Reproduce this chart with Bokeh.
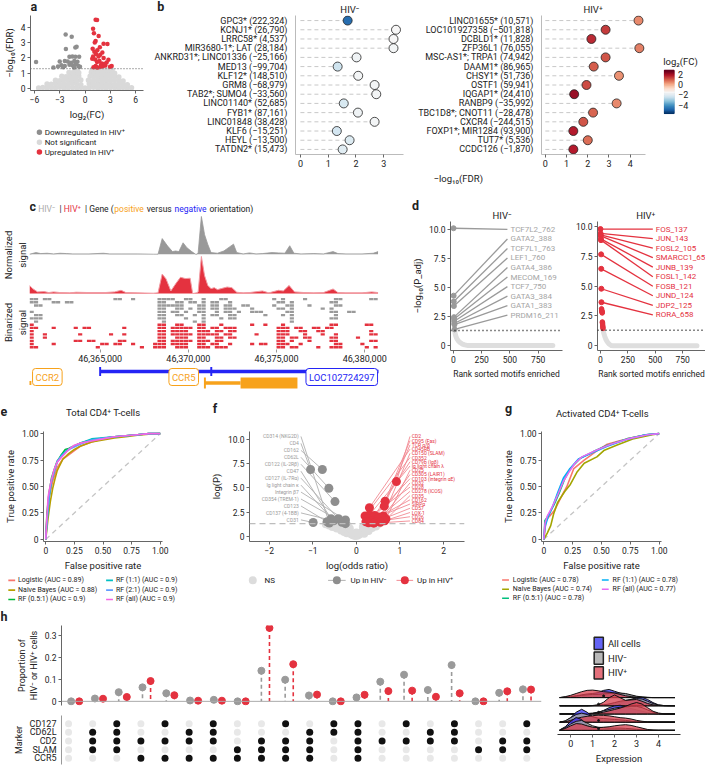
import numpy as np
from bokeh.plotting import figure
from bokeh.models import (Range1d, FixedTicker, Label, LinearColorMapper, NumeralTickFormatter, Span,
                          ColumnDataSource, Spacer)
from bokeh.layouts import column, row
from bokeh.core.properties import value
from bokeh.embed import file_html
from bokeh.resources import INLINE
from bokeh.palettes import RdBu11

# ======================= DATA =======================
# ---- (a) volcano ----
a_down_x = [-2.3, -1.58, -2.27, -1.15, -1.0, -1.85, -1.5, -1.15, -0.7, -3.0, -2.4, -2.05, -1.65, -1.27,
            -0.9, -2.8, -2.4, -1.85, -1.5, -1.1, -0.8, -3.2, -3.75, -5.8, -2.6, -1.3, -0.6]
a_down_y = [3.53, 3.37, 2.58, 2.68, 2.72, 2.08, 2.10, 2.08, 2.08, 1.77, 1.80, 1.77, 1.69, 1.80,
            1.75, 1.52, 1.48, 1.56, 1.52, 1.60, 1.48, 1.44, 1.38, 1.73, 1.40, 1.38, 1.42]
a_up_x = [1.25, 1.42, 1.61, 1.25, 2.19, 2.65, 1.80, 1.60, 2.20, 2.77, 1.42, 2.00, 2.40, 2.96, 3.15,
          1.25, 0.95, 1.05, 1.15, 0.90, 1.10, 1.30, 0.85, 1.70, 1.90, 2.10, 1.00, 1.50, 2.30, 2.55,
          0.95, 1.20, 1.45, 1.75, 2.05, 1.35, 1.85]
a_up_y = [4.48, 4.46, 3.43, 3.10, 2.92, 2.90, 2.20, 2.10, 2.00, 1.88, 1.73, 1.63, 1.50, 1.43, 1.47,
          1.47, 3.90, 3.60, 3.00, 2.60, 2.40, 2.25, 1.95, 1.80, 1.55, 1.45, 1.40, 1.38, 1.60, 1.70,
          2.10, 1.90, 2.50, 2.70, 2.35, 1.40, 1.42]
a_ns_x = [-5.5, -5, -4.5, -4, -3.5, -3, -2.5, -2, -1.5, -1, -0.5, 0, 0.5, 1, 1.5, 2, 2.5, 3, 3.5, 4, 4.5, 5, 5.5,
          -4.5, -4, -3.5, -3, -2.5, -2, -1.5, -1, -0.5, 0.5, 1, 1.5, 2, 2.5, 3, 3.5, 4, 4.5, 5,
          -3.5, -3, -2.5, -2, -1.5, -1, -0.5, 0.4, 1, 1.5, 2, 2.5, 3, 3.5, 4, 4.5,
          -2.75, -2.25, -1.75, -1.25, -0.75, 0.6, 1, 1.5, 2, 2.5, 3, 3.5, 4,
          -1.9, -1.5, -1.1, -0.75, 0.75, 1.1, 1.5, 1.9, 2.3, 2.7, 3.1, 3.5,
          -1.15, -0.9, 0.85, 1.2, 1.6, 2.0, 2.4, 2.8, 3.2]
a_ns_y = [0.05, 0.08, 0.04, 0.07, 0.05, 0.09, 0.04, 0.06, 0.08, 0.05, 0.07, 0.04, 0.06, 0.09, 0.05, 0.07,
          0.04, 0.08, 0.06, 0.05, 0.07, 0.04, 0.06,
          0.30, 0.28, 0.33, 0.27, 0.31, 0.29, 0.34, 0.30, 0.26, 0.32, 0.28, 0.31, 0.33, 0.29, 0.30, 0.27,
          0.32, 0.28, 0.25,
          0.55, 0.52, 0.58, 0.54, 0.56, 0.53, 0.57, 0.55, 0.52, 0.58, 0.54, 0.56, 0.53, 0.57, 0.52, 0.50,
          0.80, 0.78, 0.83, 0.79, 0.82, 0.80, 0.77, 0.82, 0.79, 0.81, 0.78, 0.80, 0.76,
          1.05, 1.03, 1.07, 1.04, 1.06, 1.02, 1.05, 1.07, 1.03, 1.05, 1.02, 1.00,
          1.25, 1.23, 1.24, 1.26, 1.22, 1.25, 1.24, 1.23, 1.21]
fdr_cut = 1.3
a_legend = ["Downregulated in HIV⁺", "Not significant", "Upregulated in HIV⁺"]

# ---- (b) top loci ----
b_neg_genes = ["GPC3* (222,324)", "KCNJ1* (26,790)", "LRRC58* (4,537)", "MIR3680-1*; LAT (28,184)",
               "ANKRD31*; LINC01336 (−25,166)", "MED13 (−99,704)", "KLF12* (148,510)", "GRM8 (−68,979)",
               "TAB2*; SUMO4 (−33,560)", "LINC01140* (52,685)", "FYB1* (87,161)", "LINC01848 (38,428)",
               "KLF6 (−15,251)", "HEYL (−13,500)", "TATDN2* (15,473)"]
b_neg_fdr = [1.70, 3.44, 3.35, 3.35, 2.02, 1.34, 2.08, 2.67, 2.73, 1.56, 2.07, 2.67, 1.31, 1.77, 1.52]
b_neg_fc = [-4.6, -1.4, -1.4, -1.5, -1.6, -2.3, -1.5, -1.5, -1.5, -2.1, -1.6, -1.5, -2.2, -2.0, -1.9]
b_pos_genes = ["LINC01655* (10,571)", "LOC101927358 (−501,818)", "DCBLD1* (11,828)", "ZFP36L1 (76,055)",
               "MSC-AS1*; TRPA1 (74,942)", "DAAM1* (86,965)", "CHSY1* (51,736)", "OSTF1 (59,941)",
               "IQGAP1* (24,410)", "RANBP9 (−35,992)", "TBC1D8*; CNOT11 (−28,478)", "CXCR4 (−244,515)",
               "FOXP1*; MIR1284 (93,900)", "TUT7* (5,536)", "CCDC126 (−1,870)"]
b_pos_fdr = [4.39, 2.84, 2.17, 4.43, 2.84, 2.28, 3.47, 1.94, 1.36, 3.36, 2.25, 1.79, 1.32, 2.00, 1.32]
b_pos_fc = [0.6, 1.5, 1.7, 0.7, 1.2, 1.1, 0.5, 1.3, 2.2, 0.6, 1.0, 1.2, 1.9, 0.9, 1.9]
fc_low, fc_high = -5.6, 2.76
fc_ticks = [2, 0, -2, -4]

# ---- (c) genome track ----
sig_gray_pos = [46360995, 46361359, 46361633, 46361997, 46362361, 46362725, 46363090, 46363454, 46364365,
                46365184, 46365548, 46366186, 46367097, 46368007, 46368281, 46368518, 46368827, 46369100,
                46369282, 46369464, 46369701, 46369920, 46370193, 46370411, 46370502, 46370557, 46370739,
                46370921, 46371103, 46371286, 46371650, 46372014, 46372560, 46372743, 46373107, 46373471,
                46373835, 46374200, 46374746, 46375110, 46375475, 46375748, 46375985, 46376385, 46377114,
                46377660, 46378206, 46378479, 46378935, 46379846, 46380483, 46380756]
sig_gray_val = [0, 5, 2, 3, 1, 3, 2, 1, 1, 3, 1, 1, 1, 0, 0, 48, 25, 8, 10, 8, 35, 20, 8, 0, 0, 5, 116,
                60, 30, 5, 3, 10, 31, 5, 1, 4, 1, 2, 5, 4, 3, 26, 3, 1, 2, 1, 8, 2, 1, 1, 3, 8]
sig_red_pos = [46360995, 46361177, 46361451, 46361815, 46362088, 46362361, 46362725, 46363272, 46363636,
               46364365, 46365275, 46365822, 46366186, 46366459, 46367097, 46368007, 46368281, 46368518,
               46368736, 46369009, 46369282, 46369555, 46369829, 46370102, 46370247, 46370466, 46370557,
               46370739, 46370921, 46371103, 46371286, 46371468, 46371650, 46371923, 46372196, 46372469,
               46372743, 46373107, 46373471, 46374200, 46374564, 46375110, 46375383, 46375711, 46376021,
               46376567, 46377114, 46377660, 46378206, 46378479, 46378935, 46379846, 46380392, 46380756]
sig_red_val = [25, 15, 5, 6, 3, 5, 3, 2, 4, 3, 3, 5, 10, 3, 2, 1, 2, 60, 45, 8, 30, 50, 46, 47, 0, 2, 5,
               114, 55, 25, 15, 18, 12, 16, 20, 18, 4, 2, 3, 8, 2, 10, 8, 25, 5, 3, 2, 3, 14, 3, 2, 2, 5, 3]
bin_origin = 46361000
bin_size = 250
bins_hiv_neg = [
    [0, 1, 3, 4, 19, 20, 23, 29, 30, 31, 32, 35, 36, 39, 43, 44, 55, 57, 62, 69, 70, 77, 78],
    [0, 1, 5, 6, 8, 9, 29, 30, 33, 34, 36, 37, 39, 41, 42, 45, 56, 57, 59, 68, 69],
    [1, 2, 29, 30, 31, 32, 33, 34, 38, 39, 41, 42, 44, 45, 48, 49, 55, 58, 59, 63, 69, 70],
    [29, 30, 33, 34, 36, 38, 39, 41, 42, 44, 45, 46, 50, 56, 57, 59, 66, 68],
    [0, 29, 30, 32, 33, 35, 38, 39, 42, 44, 45, 47, 50, 51, 52, 58, 59, 68, 69, 72, 73],
    [1, 2, 29, 30, 33, 34, 37, 39, 41, 42, 45, 46, 53, 57, 59, 69],
    [0, 1, 2, 29, 30, 35, 39, 43, 45, 46, 59, 68, 69],
    [1, 30, 37, 39, 59],
]
bins_hiv_pos = [
    [0, 29, 30, 33, 34, 38, 39, 43, 50, 53, 57, 68, 69, 76, 77],
    [0, 1, 5, 10, 12, 13, 21, 29, 30, 32, 33, 34, 35, 36, 38, 39, 41, 42, 44, 45, 46, 56, 57, 58, 60, 61, 64, 65, 67, 68],
    [0, 29, 30, 32, 33, 34, 35, 38, 39, 40, 42, 43, 45, 46, 56, 57, 58, 61, 62, 65, 66, 77],
    [0, 3, 11, 18, 21, 29, 30, 32, 33, 34, 35, 36, 38, 39, 40, 41, 42, 44, 45, 51, 56, 57, 58, 62, 66, 69, 77, 78],
    [0, 3, 29, 30, 33, 34, 35, 38, 39, 42, 43, 45, 46, 56, 57, 59, 60, 62, 63, 68, 69, 74],
    [0, 10, 11, 13, 14, 20, 21, 29, 30, 32, 33, 34, 35, 36, 38, 39, 40, 42, 43, 56, 57, 59, 63, 68, 69, 77, 78],
    [0, 5, 16, 17, 19, 20, 23, 28, 29, 30, 32, 33, 34, 35, 38, 39, 41, 42, 45, 50, 52, 53, 56, 57, 58, 61, 69, 70, 75],
    [0, 1, 15, 25, 28, 29, 30, 33, 34, 35, 38, 39, 40, 42, 43, 44, 56, 57, 59, 60, 65, 68, 69, 70, 76, 78],
]
gene_names = ["CCR2", "CCR5", "LOC102724297"]
gene_strand = ["+", "+", "-"]
gene_start = [46358500, 46370939, 46365000]
gene_end = [46361100, 46376185, 46381500]
ccr5_thick = (46372961, 46376185)
loc_exon_marks = [46365000, 46371300]
genome_ticks = [46365000, 46370000, 46375000, 46380000]

# ---- (d) motif enrichment ----
d_neg_motifs = ["TCF7L2_762", "GATA2_388", "TCF7L1_763", "LEF1_760", "GATA4_386", "MECOM_169",
                "TCF7_750", "GATA3_384", "GATA1_383", "PRDM16_211"]
d_neg_rank = [1, 2, 3, 4, 5, 6, 7, 8, 9, 10]
d_neg_logp = [10.1, 4.3, 3.8, 3.4, 2.45, 2.3, 2.1, 1.9, 1.8, 1.4]
d_neg_rest_rank = [11, 15, 20, 30, 45, 60, 80, 100, 130, 880]
d_neg_rest_logp = [1.3, 1.05, 0.85, 0.6, 0.38, 0.25, 0.13, 0.06, 0.0, 0.0]
d_pos_motifs = ["FOS_137", "JUN_143", "FOSL2_105", "SMARCC1_65", "JUNB_139", "FOSL1_142", "FOSB_121",
                "JUND_124", "JDP2_125", "RORA_658"]
d_pos_rank = [1, 2, 3, 4, 5, 6, 7, 8, 9, 10]
d_pos_logp = [9.78, 9.42, 9.3, 9.2, 8.95, 8.85, 7.66, 6.45, 4.78, 3.65]
d_pos_sig_rank = [11, 12, 13, 14, 15, 16, 17, 18, 19, 20, 21, 22, 23, 24]
d_pos_sig_logp = [3.1, 3.0, 2.95, 2.9, 2.85, 2.8, 2.75, 2.0, 1.95, 1.85, 1.75, 1.65, 1.55, 1.45]
d_pos_rest_rank = [25, 30, 40, 50, 60, 70, 80, 90, 100, 120, 880]
d_pos_rest_logp = [1.3, 1.1, 0.8, 0.55, 0.38, 0.25, 0.15, 0.08, 0.03, 0.0, 0.0]
padj_cut = 1.3

# ---- (e), (g) ROC ----
e_models = ["Logistic (AUC = 0.89)", "Naive Bayes (AUC = 0.88)", "RF (0.5:1) (AUC = 0.9)",
            "RF (1:1) (AUC = 0.9)", "RF (2:1) (AUC = 0.9)", "RF (all) (AUC = 0.9)"]
e_fpr = [
    [0, 0.01, 0.03, 0.06, 0.1, 0.15, 0.2, 0.25, 0.3, 0.4, 0.5, 0.6, 0.7, 0.8, 0.9, 1.0],
    [0, 0.02, 0.04, 0.06, 0.08, 0.1, 0.15, 0.2, 0.25, 0.3, 0.4, 0.5, 0.6, 0.7, 0.8, 0.9, 1.0],
    [0, 0.01, 0.03, 0.05, 0.08, 0.1, 0.13, 0.17, 0.2, 0.3, 0.4, 0.5, 0.6, 0.7, 0.8, 0.9, 1.0],
    [0, 0.01, 0.03, 0.05, 0.08, 0.1, 0.14, 0.18, 0.22, 0.3, 0.4, 0.5, 0.6, 0.7, 0.8, 0.9, 1.0],
    [0, 0.01, 0.03, 0.05, 0.08, 0.1, 0.14, 0.18, 0.22, 0.3, 0.4, 0.5, 0.6, 0.7, 0.8, 0.9, 1.0],
    [0, 0.01, 0.02, 0.04, 0.07, 0.1, 0.15, 0.2, 0.25, 0.3, 0.4, 0.5, 0.6, 0.7, 0.8, 0.9, 1.0],
]
e_tpr = [
    [0, 0.2, 0.4, 0.55, 0.68, 0.76, 0.8, 0.84, 0.88, 0.92, 0.95, 0.97, 0.98, 0.99, 1.0, 1.0],
    [0, 0.2, 0.36, 0.48, 0.57, 0.65, 0.76, 0.81, 0.85, 0.88, 0.92, 0.94, 0.96, 0.97, 0.985, 0.995, 1.0],
    [0, 0.25, 0.45, 0.58, 0.68, 0.74, 0.79, 0.85, 0.86, 0.91, 0.94, 0.955, 0.97, 0.98, 0.99, 1.0, 1.0],
    [0, 0.15, 0.4, 0.55, 0.66, 0.73, 0.8, 0.84, 0.87, 0.91, 0.95, 0.96, 0.97, 0.98, 0.99, 1.0, 1.0],
    [0, 0.18, 0.42, 0.56, 0.67, 0.74, 0.79, 0.83, 0.86, 0.9, 0.94, 0.955, 0.97, 0.98, 0.99, 1.0, 1.0],
    [0, 0.22, 0.4, 0.52, 0.65, 0.73, 0.79, 0.85, 0.89, 0.91, 0.93, 0.95, 0.97, 0.98, 0.99, 1.0, 1.0],
]
g_models = ["Logistic (AUC = 0.78)", "Naive Bayes (AUC = 0.74)", "RF (0.5:1) (AUC = 0.78)",
            "RF (1:1) (AUC = 0.78)", "RF (all) (AUC = 0.77)"]
g_fpr = [
    [0, 0.02, 0.05, 0.09, 0.15, 0.2, 0.26, 0.35, 0.45, 0.55, 0.65, 0.72, 0.8, 0.89, 1.0],
    [0, 0.03, 0.06, 0.085, 0.12, 0.18, 0.23, 0.29, 0.35, 0.46, 0.52, 0.63, 0.77, 0.94, 1.0],
    [0, 0.01, 0.03, 0.09, 0.13, 0.18, 0.23, 0.32, 0.43, 0.55, 0.72, 0.89, 1.0],
    [0, 0.01, 0.04, 0.08, 0.12, 0.17, 0.22, 0.3, 0.42, 0.55, 0.7, 0.88, 1.0],
    [0, 0.01, 0.03, 0.07, 0.12, 0.17, 0.22, 0.27, 0.33, 0.45, 0.58, 0.73, 0.9, 1.0],
]
g_tpr = [
    [0, 0.18, 0.22, 0.27, 0.4, 0.5, 0.67, 0.75, 0.83, 0.9, 0.93, 0.95, 0.97, 0.99, 1.0],
    [0, 0.06, 0.13, 0.24, 0.35, 0.45, 0.52, 0.64, 0.72, 0.78, 0.84, 0.89, 0.95, 0.99, 1.0],
    [0, 0.18, 0.21, 0.33, 0.43, 0.57, 0.67, 0.77, 0.83, 0.89, 0.95, 0.99, 1.0],
    [0, 0.12, 0.22, 0.32, 0.44, 0.58, 0.66, 0.76, 0.82, 0.88, 0.94, 0.99, 1.0],
    [0, 0.15, 0.22, 0.3, 0.42, 0.55, 0.64, 0.72, 0.78, 0.84, 0.9, 0.95, 0.99, 1.0],
]

# ---- (f) marker volcano ----
f_ns_x = [-0.70, -0.62, -0.55, -0.50, -0.45, -0.40, -0.35, -0.30, -0.28, -0.22, -0.18, -0.12, -0.08, -0.03,
          0.02, 0.06, 0.10, 0.14, 0.18, 0.20, 0.24, 0.28, 0.32, 0.36, 0.40, 0.45, 0.50, 0.15, -0.15, 0.00,
          -0.20, 0.30, -0.60]
f_ns_y = [1.25, 1.10, 0.95, 1.20, 0.80, 1.00, 0.60, 0.85, 0.45, 0.30, 0.55, 0.20, 0.10, 0.02, 0.05, 0.15,
          0.30, 0.50, 0.25, 0.70, 0.90, 0.55, 1.10, 0.85, 1.20, 1.00, 1.25, 0.95, 0.80, 0.40, 1.10, 1.25, 1.28]
f_neg_labels = ["CD314 (NKG2D)", "CD4", "CD162", "CD62L", "CD122 (IL-2Rβ)", "CD47", "CD127 (IL-7Rα)",
                "Ig light chain κ", "Integrin β7", "CD354 (TREM-1)", "CD123", "CD137 (4-1BB)", "CD31"]
f_neg_x = [-0.62, -1.05, -0.78, -0.63, -0.49, -0.58, -0.41, -0.52, -0.25, -0.33, -0.67, -0.25, -0.99]
f_neg_y = [1.36, 6.89, 6.89, 4.96, 3.58, 1.82, 1.82, 1.60, 1.69, 1.45, 1.50, 1.30, 1.42]
f_pos_labels = ["CD2", "CD95 (Fas)", "TCR α/β", "CD45RB", "CD150 (SLAM)", "CD352", "CD79b (Igβ)",
                "Ig light chain λ", "CD25", "CD305 (LAIR1)", "CD103 (integrin αE)", "CD32", "CD28",
                "CD278 (ICOS)", "CD35", "CD162", "SIRPα", "CD57", "LOX-1", "CD26", "CD84"]
f_pos_x = [0.92, 0.66, 0.64, 0.30, 0.62, 0.20, 0.42, 0.30, 0.68, 0.52, 0.38, 0.58, 0.25, 0.48, 0.65,
           0.35, 0.22, 0.45, 0.55, 0.28, 0.40]
f_pos_y = [5.64, 3.62, 3.11, 2.94, 2.10, 2.10, 2.15, 2.20, 1.80, 2.00, 1.90, 1.90, 1.80, 1.75, 1.60,
           1.60, 1.50, 1.50, 1.45, 1.40, 1.35]
f_cut = 1.3
f_legend = ["NS", "Up in HIV⁻", "Up in HIV⁺"]

# ---- (h) marker combinations ----
h_markers = ["CD127", "CD62L", "CD2", "SLAM", "CCR5"]
h_membership = ["00101010010110101001",
                "01100110001110011000",
                "01111110111011111011",
                "01100001111010000111",
                "00011111111010000000"]
h_prop_neg = [0.0, 0.013, 0.042, 0.064, 0.037, 0.004, 0.007, 0.0, 0.14, 0.099, 0.027, 0.0, 0.018, 0.09,
              0.122, 0.052, 0.166, 0.0, 0.039, 0.055]
h_prop_pos = [0.0, 0.012, 0.02, 0.093, 0.028, 0.003, 0.003, 0.0, 0.336, 0.17, 0.031, 0.0, 0.03, 0.047,
              0.049, 0.021, 0.037, 0.0, 0.046, 0.054]
ridge_groups = ["All cells", "HIV⁻", "HIV⁺"]
ridge_grid = [-0.5, -0.25, 0, 0.25, 0.5, 0.75, 1.0, 1.25, 1.5, 1.75, 2.0, 2.25, 2.5, 2.75, 3.0, 3.25, 3.5,
              3.75, 4.0, 4.25, 4.5, 4.75]
ridge_all = [
    [0, 0.5, 1, 2, 3, 4, 4.5, 5.5, 8, 9, 7, 5, 3.5, 2, 1, 0.5, 0.2, 0, 0, 0, 0, 0],
    [0, 0, 0, 0, 0, 0, 0.2, 0.5, 1, 1.5, 2.5, 3.5, 5, 7, 9, 9.3, 7, 3.5, 1, 0.2, 0, 0],
    [0, 0, 0, 0, 0, 0.2, 0.5, 1.5, 4, 7, 9, 9.7, 8, 6, 4.5, 3, 1.5, 0.5, 0.1, 0, 0, 0],
    [0, 1, 5, 11, 14.3, 11, 6, 3, 2, 1.5, 1, 0.8, 0.5, 0.3, 0.1, 0, 0, 0, 0, 0, 0, 0],
    [0.5, 4, 10, 14.3, 12, 6, 3, 1.5, 1, 0.6, 0.4, 0.3, 0.2, 0.1, 0, 0, 0, 0, 0, 0, 0, 0],
]
ridge_neg = [
    [0, 0.3, 0.8, 1.5, 2.5, 3, 3.5, 3.5, 4, 4.5, 5, 5, 4.5, 3, 1.5, 0.7, 0.2, 0, 0, 0, 0, 0],
    [0, 0, 0, 0, 0, 0, 0.2, 0.5, 1, 2, 3.5, 5, 6, 7, 8, 7.5, 5, 2.5, 0.8, 0.2, 0, 0],
    [0, 0, 0, 0, 0.2, 0.5, 1, 2, 3.5, 5, 6.5, 7.5, 8, 8.5, 8.5, 7, 4.5, 2, 0.5, 0, 0, 0],
    [0, 1.5, 5, 8.5, 10, 8.5, 6, 4.5, 4, 3.5, 3, 2.5, 2, 1.2, 0.5, 0.1, 0, 0, 0, 0, 0, 0],
    [0.5, 3, 7, 10, 11, 8, 5, 3.5, 3, 2.5, 2.5, 2.5, 2.2, 1.8, 1.2, 0.5, 0.1, 0, 0, 0, 0, 0],
]
ridge_pos = [
    [0, 1, 2.5, 4.5, 6.5, 8, 8.3, 7.5, 6.5, 6, 5, 3.5, 2, 1, 0.4, 0.1, 0, 0, 0, 0, 0, 0],
    [0, 0, 0, 0, 0, 0, 0.3, 1, 4, 9, 12, 9, 6, 6.5, 7, 5, 2.5, 1, 0.3, 0, 0, 0],
    [0, 0, 0, 0, 0, 0.2, 0.5, 1, 2, 3.5, 5, 6.5, 8.5, 11, 12.7, 11, 7, 3, 1, 0.2, 0, 0],
    [0, 0.5, 2, 4, 5.5, 6.5, 7.2, 7.7, 7.5, 7, 6, 5, 4.5, 3.5, 2, 1, 0.3, 0, 0, 0, 0, 0],
    [0.3, 2, 5, 7.5, 7, 5, 3.5, 3, 3.5, 4, 5, 5.8, 6.3, 5.5, 4, 2.5, 1, 0.3, 0, 0, 0, 0],
]
ridge_gate = [1.5, 1.27, 1.27, 1.27, 1.27]

# ======================= HELPERS =======================
KX = 705 / 721
KY = 766 / 782
def ex(x): return int(round(x * KX))
def ey(y): return int(round(y * KY))

FONT = "Roboto"
INK = "#222222"
AXC = "#666666"
RED = "#E4323F"
GRAY = "#8E8E8E"
LIGHT = "#D9D9D9"
ORANGE = "#F7A21B"
BLUE = "#2424F5"
E_COLS = ["#F8766D", "#B79F00", "#00BA38", "#00BFC4", "#619CFF", "#F564E3"]
G_COLS = ["#F8766D", "#A3A500", "#00BF7D", "#00B0F6", "#E76BF3"]
RIDGE_COLS = [("#3D3DF2", 0.8), ("#A6A6A6", 0.8), ("#D9404F", 0.75)]
LETTER = "12.5px"
# approximate advance widths (em) used to chain multi-coloured text pieces
EM = {' ': 0.26, 'H': 0.72, 'I': 0.28, 'V': 0.65, '|': 0.26, 'G': 0.69, 'e': 0.54, 'n': 0.56,
      '(': 0.35, ')': 0.35, 'p': 0.57, 'o': 0.58, 's': 0.53, 'i': 0.25, 't': 0.34, 'v': 0.5,
      'r': 0.35, 'u': 0.56, 'g': 0.57, 'a': 0.55, 'c': 0.53}
EM_PAD = 1.12


def base_fig(w, h, xr, yr, xaxis, yaxis, mb):
    p = figure(width=w, height=h, x_range=Range1d(*xr), y_range=Range1d(*yr),
               x_axis_location="below" if xaxis else None,
               y_axis_location="left" if yaxis else None,
               min_border_left=mb[0], min_border_right=mb[1], min_border_top=mb[2], min_border_bottom=mb[3],
               output_backend="svg", toolbar_location=None, tools="")
    p.outline_line_color = None
    p.grid.visible = False
    return p


def mkfig(box, frame, xr, yr, xaxis=True, yaxis=True):
    L, T, R, B = box
    fl, ft, fr, fb = frame
    return base_fig(ex(R) - ex(L), ey(B) - ey(T), xr, yr, xaxis, yaxis,
                    (ex(fl) - ex(L), ex(R) - ex(fr), ey(ft) - ey(T), ey(B) - ey(fb)))


def annfig(L, T, R, B):
    # text / legend strip: coordinates are reference pixels (y downward)
    return base_fig(ex(R) - ex(L), ey(B) - ey(T), (L, R), (B, T), False, False, (0, 0, 0, 0))


def sty(ax, size="8.5px", lsize="9.5px"):
    ax.axis_line_color = AXC
    ax.major_tick_line_color = AXC
    ax.major_tick_out = 3
    ax.major_tick_in = 0
    ax.minor_tick_line_color = None
    ax.major_label_text_font = FONT
    ax.major_label_text_font_size = size
    ax.major_label_text_color = INK
    ax.major_label_standoff = 2
    ax.axis_label_text_font = FONT
    ax.axis_label_text_font_size = lsize
    ax.axis_label_text_font_style = "normal"
    ax.axis_label_text_color = INK
    ax.axis_label_standoff = 3


def k(v):
    return int(v) if float(v).is_integer() else v


def ticks(ax, vals, labels):
    ax.ticker = FixedTicker(ticks=list(vals))
    ax.major_label_overrides = {k(v): l for v, l in zip(vals, labels)}


def label_only_axis(ax, text, size="9.5px"):
    ax.ticker = FixedTicker(ticks=[])
    ax.axis_line_color = None
    ax.major_tick_line_color = None
    ax.minor_tick_line_color = None
    ax.axis_label = text
    ax.axis_label_text_font = FONT
    ax.axis_label_text_font_size = size
    ax.axis_label_text_font_style = "normal"
    ax.axis_label_text_color = INK
    ax.axis_label_standoff = 2


def T(p, x, y, s, size="9px", color=INK, align="left", baseline="middle", style="normal"):
    p.text(x=[x], y=[y], text=[s], text_font=value(FONT), text_font_size=value(size), text_color=color,
           text_align=align, text_baseline=baseline, text_font_style=style)


def chain(p, x0, y, segs, px):
    scale = px / KX * EM_PAD
    x = x0
    for s, col in segs:
        lead = len(s) - len(s.lstrip(" "))
        T(p, x + lead * EM[' '] * scale, y, s.strip(" "), size="%gpx" % px, color=col)
        x += sum(EM.get(ch, 0.58) for ch in s) * scale


def interp_pal(cols, n):
    rgb = np.array([[int(c[i:i + 2], 16) for i in (1, 3, 5)] for c in cols], float)
    t = np.linspace(0, 1, len(cols))
    out = []
    for v in np.linspace(0, 1, n):
        r = [int(round(np.interp(v, t, rgb[:, j]))) for j in range(3)]
        out.append("#%02x%02x%02x" % tuple(r))
    return out

# ======================= ROW 1 : a, b (ref y 0-203) =======================
hA = annfig(0, 0, 152, 15)
T(hA, 0, 13, "a", size=LETTER, style="bold", baseline="bottom")

pa = mkfig((0, 15, 152, 125), (30, 15, 146, 97), (-6.46, 6.92), (-0.12, 4.76))
sty(pa.xaxis[0]); sty(pa.yaxis[0])
ticks(pa.xaxis[0], [-6, -3, 0, 3, 6], ["−6", "−3", "0", "3", "6"])
ticks(pa.yaxis[0], [0, 1, 2, 3, 4], ["0", "1", "2", "3", "4"])
pa.xaxis[0].axis_label = "log₂(FC)"
pa.yaxis[0].axis_label = "−log₁₀(FDR)"
pa.scatter(a_ns_x, a_ns_y, size=5.5, color=LIGHT, line_color=None)
pa.add_layout(Span(location=fdr_cut, dimension="width", line_color="#777777", line_dash="1 2", line_width=1.3))
pa.scatter(a_down_x, a_down_y, size=4.5, color=GRAY, line_color=None)
pa.scatter(a_up_x, a_up_y, size=4.5, color=RED, line_color=None)

fA = annfig(0, 125, 152, 203)
for yy, col, txt in zip([135, 145, 155], [GRAY, LIGHT, RED], a_legend):
    fA.scatter([12], [yy], size=5.5, color=col, line_color=None)
    T(fA, 19, yy, txt, size="8px")

mapper = LinearColorMapper(palette=interp_pal(list(RdBu11), 256), low=fc_low, high=fc_high)
ypos = list(range(len(b_neg_genes), 0, -1))


def bpanel(box, frame, xr, genes, fdr, fc, xt):
    p = mkfig(box, frame, xr, (0.45, 15.55))
    sty(p.xaxis[0], size="9px"); sty(p.yaxis[0], size="9px")
    ticks(p.xaxis[0], xt, [str(t) for t in xt])
    ticks(p.yaxis[0], ypos, genes)
    p.yaxis[0].major_tick_line_color = None
    p.yaxis[0].axis_line_color = "#BBBBBB"
    p.xaxis[0].axis_line_color = "#BBBBBB"
    p.yaxis[0].major_label_standoff = 5
    p.segment(x0=[0] * len(fdr), y0=ypos, x1=fdr, y1=ypos, line_color="#C8C8C8", line_dash="4 3", line_width=1)
    src = ColumnDataSource(dict(x=fdr, y=ypos, fc=fc))
    p.scatter("x", "y", size=9, fill_color={"field": "fc", "transform": mapper},
              line_color="#222222", line_width=0.8, source=src)
    return p


hB = annfig(152, 0, 721, 15)
T(hB, 160, 13, "b", size=LETTER, style="bold", baseline="bottom")
T(hB, 357, 8.5, "HIV⁻", size="9.5px", align="center")
T(hB, 606, 8.5, "HIV⁺", size="9.5px", align="center")
pbl = bpanel((152, 15, 415, 175), (302, 15, 412, 157.2), (-0.177, 3.71), b_neg_genes, b_neg_fdr, b_neg_fc, [0, 1, 2, 3])
pbr = bpanel((415, 15, 668, 175), (553, 15, 660, 157.2), (-0.18, 4.72), b_pos_genes, b_pos_fdr, b_pos_fc, [0, 1, 2, 3, 4])

# colour bar as its own small plot (y in log2FC units)
cb_px = 44.0 / (fc_high - fc_low)          # reference pixels per log2FC unit
cbf = base_fig(ex(721) - ex(668), ey(120) - ey(52), (668, 721),
               (fc_low - 5 / cb_px, fc_high + 19 / cb_px), False, False, (0, 0, 0, 0))
edges = np.linspace(fc_low, fc_high, len(mapper.palette) + 1)
cbf.quad(left=679, right=689, bottom=edges[:-1], top=edges[1:], fill_color=list(mapper.palette),
         line_color=list(mapper.palette), line_width=0.6)
cbf.text(x=[693] * len(fc_ticks), y=fc_ticks, text=[str(t).replace("-", "−") for t in fc_ticks],
         text_font=value(FONT), text_font_size=value("9px"), text_color=INK, text_baseline="middle")
cbf.text(x=[678], y=[fc_high + 9 / cb_px], text=["log₂(FC)"], text_font=value(FONT),
         text_font_size=value("9.5px"), text_color=INK, text_baseline="middle")
cb_col = column(Spacer(width=ex(721) - ex(668), height=ey(52) - ey(15)), cbf,
                Spacer(width=ex(721) - ex(668), height=ey(175) - ey(120)))

fB = annfig(152, 175, 721, 203)
T(fB, 468, 181.5, "−log₁₀(FDR)", size="9.5px", align="center")

row1 = row(column(hA, pa, fA), column(hB, row(pbl, pbr, cb_col), fB))

# ======================= ROW 2 : c, d (ref y 203-405) =======================
xr_c = (46360995, 46380780)
hC = annfig(0, 203, 400, 219)
T(hC, 0, 217, "c", size=LETTER, style="bold", baseline="bottom")
chain(hC, 10, 212, [("HIV⁻", "#AAAAAA"), (" | ", INK), ("HIV⁺", RED), (" | Gene (", INK),
                    ("positive", ORANGE), (" versus ", INK), ("negative", BLUE), (" orientation)", INK)], 8.5)

pcs = mkfig((0, 219, 400, 300), (25, 219, 387, 300), xr_c, (0, 81), xaxis=False)
label_only_axis(pcs.yaxis[0], "Normalized\nsignal")
gbase, gamp = 41.3, 38.7
rbase, ramp = 1.0, 38.0
gtop = [gbase + v / max(sig_gray_val) * gamp for v in sig_gray_val]
rtop = [rbase + v / max(sig_red_val) * ramp for v in sig_red_val]
pcs.varea(x=sig_gray_pos, y1=[gbase] * len(gtop), y2=gtop, fill_color="#999999")
pcs.line(sig_gray_pos, gtop, line_color="#999999", line_width=0.8)
pcs.varea(x=sig_red_pos, y1=[rbase] * len(rtop), y2=rtop, fill_color=RED)
pcs.line(sig_red_pos, rtop, line_color="#F19AA2", line_width=1.0)

pcb = mkfig((0, 300, 400, 372), (25, 301, 387, 357), xr_c, (0, 56))
label_only_axis(pcb.yaxis[0], "Binarized\nsignal")
ax = pcb.xaxis[0]
sty(ax, size="9px")
ax.axis_line_color = None
ax.major_tick_line_color = "#999999"
ax.ticker = FixedTicker(ticks=genome_ticks)
ax.formatter = NumeralTickFormatter(format="0,0")
ql, qr, qb, qt, qc = [], [], [], [], []
rows_bin = [(b, "#9A9A9A") for b in bins_hiv_neg] + [(b, RED) for b in bins_hiv_pos]
for kk, (bl, col) in enumerate(rows_bin):
    yc = 52.3 - 3.33 * kk
    for b in bl:
        ql.append(bin_origin + b * bin_size)
        qr.append(bin_origin + (b + 1) * bin_size - 15)
        qb.append(yc - 1.2)
        qt.append(yc + 1.2)
        qc.append(col)
pcb.quad(left=ql, right=qr, bottom=qb, top=qt, fill_color=qc, line_color=None)

pc2 = mkfig((0, 372, 400, 405), (25, 372, 387, 405), xr_c, (0, 33), xaxis=False, yaxis=False)
gcol = {"+": ORANGE, "-": BLUE}
i_loc = 2
pc2.quad(left=[gene_start[i_loc]], right=[gene_end[i_loc]], bottom=[24.2], top=[27.8],
         fill_color=gcol[gene_strand[i_loc]], line_color=None)
pc2.quad(left=[m - 55 for m in loc_exon_marks], right=[m + 55 for m in loc_exon_marks],
         bottom=[21.5] * 2, top=[30.5] * 2, fill_color=gcol[gene_strand[i_loc]], line_color=None)
i5 = 1
pc2.quad(left=[gene_start[i5]], right=[ccr5_thick[0]], bottom=[12.8], top=[16.2], fill_color=ORANGE, line_color=None)
pc2.quad(left=[gene_start[i5] - 55], right=[gene_start[i5] + 55], bottom=[9], top=[20], fill_color=ORANGE, line_color=None)
pc2.quad(left=[ccr5_thick[0]], right=[ccr5_thick[1]], bottom=[9], top=[20], fill_color=ORANGE, line_color=None)
pc2.quad(left=[gene_start[0]], right=[gene_end[0]], bottom=[12.5], top=[16.5], fill_color=ORANGE, line_color=None)
for name, gx, strand in [(gene_names[0], 46362006, gene_strand[0]), (gene_names[1], 46369737, gene_strand[1]),
                         (gene_names[2], 46378698, gene_strand[2])]:
    col = gcol[strand]
    pc2.add_layout(Label(x=gx, y=20.5, text=name, text_font=FONT, text_font_size="9.5px", text_color=col,
                         text_align="center", text_baseline="middle", border_line_color=col,
                         border_line_width=1, background_fill_color="white", padding=3, border_radius=3))


def dpanel(box, frame, xr, yr, ylabel):
    p = mkfig(box, frame, xr, yr)
    sty(p.xaxis[0], lsize="8.5px"); sty(p.yaxis[0])
    ticks(p.xaxis[0], [0, 250, 500, 750], ["0", "250", "500", "750"])
    ticks(p.yaxis[0], [0, 2.5, 5, 7.5, 10], ["0", "2.5", "5.0", "7.5", "10.0"])
    p.xaxis[0].axis_label = "Rank sorted motifs enriched"
    if ylabel:
        p.yaxis[0].axis_label = ylabel
    p.add_layout(Span(location=padj_cut, dimension="width", line_color="#111111", line_dash="1 3", line_width=1.5))
    return p


hD = annfig(400, 203, 721, 226)
T(hD, 421, 217, "d", size=LETTER, style="bold", baseline="bottom")
T(hD, 513, 220, "HIV⁻", size="9.5px", align="center")
T(hD, 660, 220, "HIV⁺", size="9.5px", align="center")

pd1 = dpanel((400, 226, 585, 405), (460, 226, 575, 357), (-25.9, 965.5), (-0.42, 10.68), "−log₁₀(P_adj)")
pd1.line(d_neg_rest_rank, d_neg_rest_logp, line_color="#DEDEDE", line_width=5, line_cap="round", line_join="round")
ly = np.linspace(10.0, 2.62, len(d_neg_motifs))
pd1.segment(x0=d_neg_rank, y0=d_neg_logp, x1=[478] * len(ly), y1=ly, line_color="#9A9A9A", line_width=1.3)
pd1.scatter(d_neg_rank, d_neg_logp, size=5, color="#9A9A9A")
pd1.text(x=[505] * len(ly), y=ly, text=d_neg_motifs, text_font=value(FONT), text_font_size="8px",
         text_color="#A5A5A5", text_baseline="middle", text_align="left")

pd2 = dpanel((585, 226, 721, 405), (608, 226, 721, 357), (-26, 958), (-0.39, 10.41), None)
pd2.line(d_pos_rest_rank, d_pos_rest_logp, line_color="#DEDEDE", line_width=5, line_cap="round", line_join="round")
ly2 = np.linspace(9.78, 2.6, len(d_pos_motifs))
pd2.segment(x0=d_pos_rank, y0=d_pos_logp, x1=[478] * len(ly2), y1=ly2, line_color=RED, line_width=1.3)
pd2.scatter(d_pos_sig_rank, d_pos_sig_logp, size=4.5, color=RED)
pd2.scatter(d_pos_rank, d_pos_logp, size=5, color=RED)
pd2.text(x=[505] * len(ly2), y=ly2, text=d_pos_motifs, text_font=value(FONT), text_font_size="8px",
         text_color=RED, text_baseline="middle", text_align="left")

row2 = row(column(hC, pcs, pcb, pc2), column(hD, row(pd1, pd2)))

# ======================= ROW 3 : e, f, g (ref y 405-637) =======================
h3 = annfig(0, 405, 721, 428)
T(h3, 0, 424, "e", size=LETTER, style="bold", baseline="bottom")
T(h3, 67, 420.5, "Total CD4⁺ T-cells", size="9.5px")
T(h3, 217, 424, "f", size=LETTER, style="bold", baseline="bottom")
T(h3, 516, 424, "g", size=LETTER, style="bold", baseline="bottom")
T(h3, 568, 421.5, "Activated CD4⁺ T-cells", size="9.5px")


def rocpanel(box, frame, fprs, tprs, colors):
    p = mkfig(box, frame, (-0.02, 1.02), (-0.02, 1.02))
    sty(p.xaxis[0]); sty(p.yaxis[0])
    tv = [0, 0.25, 0.5, 0.75, 1]
    tl = ["0", "0.25", "0.50", "0.75", "1.00"]
    ticks(p.xaxis[0], tv, tl); ticks(p.yaxis[0], tv, tl)
    p.xaxis[0].axis_label = "False positive rate"
    p.yaxis[0].axis_label = "True positive rate"
    p.line([0, 1], [0, 1], line_color="#C4C4C4", line_dash="5 4", line_width=1.3)
    for f, t, c in zip(fprs, tprs, colors):
        p.line(f, t, line_color=c, line_width=1.6)
    return p


pe = rocpanel((0, 428, 212, 585), (43.7, 431.6, 165.3, 554.4), e_fpr, e_tpr, E_COLS)
pg = rocpanel((480, 428, 721, 585), (553.7, 431.6, 675.7, 554.4), g_fpr, g_tpr, G_COLS)

pf = mkfig((212, 428, 480, 585), (255, 440, 475, 552), (-2.45, 2.48), (-0.54, 10.81))
sty(pf.xaxis[0]); sty(pf.yaxis[0])
ticks(pf.xaxis[0], [-2, -1, 0, 1, 2], ["−2", "−1", "0", "1", "2"])
ticks(pf.yaxis[0], [0, 2.5, 5, 7.5, 10], ["0", "2.5", "5.0", "7.5", "10.0"])
pf.xaxis[0].axis_label = "log(odds ratio)"
pf.yaxis[0].axis_label = "log(P)"
pf.add_layout(Span(location=f_cut, dimension="width", line_color="#BDBDBD", line_dash="6 4", line_width=1.3))
pf.scatter(f_ns_x, f_ns_y, size=8, color="#DCDCDC", line_color=None)
lyn = np.linspace(10.3, 1.69, len(f_neg_labels))
lyp = np.linspace(10.3, 1.58, len(f_pos_labels))
pf.segment(x0=[-1.27] * len(lyn), y0=lyn, x1=f_neg_x, y1=f_neg_y, line_color="#B0B0B0", line_width=0.9)
pf.segment(x0=[1.23] * len(lyp), y0=lyp, x1=f_pos_x, y1=f_pos_y, line_color="#F28A93", line_width=0.9)
pf.scatter(f_neg_x, f_neg_y, size=9, color="#8E8E8E", line_color=None)
pf.scatter(f_pos_x, f_pos_y, size=9, color=RED, line_color=None)
pf.text(x=[-1.32] * len(lyn), y=lyn, text=f_neg_labels, text_font=value(FONT), text_font_size="5px",
        text_color="#9A9A9A", text_align="right", text_baseline="middle")
pf.text(x=[1.27] * len(lyp), y=lyp, text=f_pos_labels, text_font=value(FONT), text_font_size="5px",
        text_color=RED, text_align="left", text_baseline="middle")

f3 = annfig(0, 585, 721, 637)
e_rows = [592, 602, 611.5]
for i, name in enumerate(e_models):
    x0 = 8 if i < 3 else 108
    yy = e_rows[i % 3]
    f3.segment(x0=[x0], y0=[yy], x1=[x0 + 7], y1=[yy], line_color=E_COLS[i], line_width=1.6)
    T(f3, x0 + 10, yy, name, size="7px")
g_rows = [591.7, 601, 610.3]
for i, name in enumerate(g_models):
    x0 = 513 if i < 3 else 615
    yy = g_rows[i % 3]
    f3.segment(x0=[x0], y0=[yy], x1=[x0 + 7], y1=[yy], line_color=G_COLS[i], line_width=1.6)
    T(f3, x0 + 11, yy, name, size="7px")
f3.scatter([258], [592], size=8, color="#DCDCDC", line_color=None)
T(f3, 270, 592, f_legend[0], size="8px")
f3.segment(x0=[335], y0=[592], x1=[353], y1=[592], line_color="#B0B0B0", line_width=1)
f3.scatter([344], [592], size=8, color="#8E8E8E", line_color=None)
T(f3, 358, 592, f_legend[1], size="8px")
f3.segment(x0=[405], y0=[592], x1=[422], y1=[592], line_color="#F28A93", line_width=1)
f3.scatter([413.5], [592], size=8, color=RED, line_color=None)
T(f3, 426, 592, f_legend[2], size="8px")
T(f3, 0, 636, "h", size=LETTER, style="bold", baseline="bottom")

row3 = column(h3, row(pe, pf, pg), f3)

# ======================= ROW 4 : h (ref y 637-782) =======================
ncomb = len(h_prop_neg)
combo = list(range(1, ncomb + 1))
xg = [c - 0.17 for c in combo]
xrd = [c + 0.17 for c in combo]
ph1 = mkfig((0, 637, 560, 724), (55, 638, 553, 720), (0.424, 20.61), (-0.019, 0.347), xaxis=False)
sty(ph1.yaxis[0], lsize="9px")
ticks(ph1.yaxis[0], [0, 0.1, 0.2, 0.3], ["0", "0.1", "0.2", "0.3"])
ph1.yaxis[0].axis_label = "Proportion of\nHIV⁻ or HIV⁺ cells"
ph1.add_layout(Span(location=0, dimension="width", line_color="#AAAAAA", line_width=1))
ph1.segment(x0=xg, y0=h_prop_neg, x1=xg, y1=[0] * ncomb, line_color="#9A9A9A", line_width=1.6, line_dash="4 3")
ph1.segment(x0=xrd, y0=h_prop_pos, x1=xrd, y1=[0] * ncomb, line_color=RED, line_width=1.6, line_dash="4 3")
ph1.scatter(xg, h_prop_neg, size=7, color="#9A9A9A")
ph1.scatter(xrd, h_prop_pos, size=7, color=RED)

ph2 = mkfig((0, 724, 560, 782), (62, 730, 553, 780), (0.708, 20.61), (0.29, 5.94), xaxis=False)
sty(ph2.yaxis[0], size="9px", lsize="9px")
mpos = list(range(len(h_markers), 0, -1))
ticks(ph2.yaxis[0], mpos, h_markers)
ph2.yaxis[0].major_tick_line_color = None
ph2.yaxis[0].axis_line_color = "#999999"
ph2.yaxis[0].axis_label = "Marker"
mx, my, mc = [], [], []
for r, mem in enumerate(h_membership):
    for c, ch in enumerate(mem):
        mx.append(c + 1)
        my.append(mpos[r])
        mc.append("#111111" if ch == "1" else "#E8E8E8")
ph2.scatter(mx, my, size=7, color=mc, line_color=None)

hL = annfig(560, 637, 721, 697)
for (fc, fa), name, y0 in zip(RIDGE_COLS, ridge_groups, [650, 665, 680]):
    hL.quad(left=[608], right=[620], top=[y0], bottom=[y0 + 12.5], fill_color=fc, fill_alpha=fa,
            line_color="#222222", line_width=1.5)
    T(hL, 626, y0 + 6.2, name, size="9.5px")

ph3 = mkfig((560, 697, 721, 782), (570, 700, 695, 753.3), (-0.6, 5.0), (-0.505, 5.35), yaxis=False)
sty(ph3.xaxis[0], size="9px")
ph3.xaxis[0].axis_line_color = "#333333"
ticks(ph3.xaxis[0], [0, 1, 2, 3, 4], ["0", "1", "2", "3", "4"])
ph3.xaxis[0].axis_label = "Expression"
rscale = 1 / 9.1
for r in range(5):
    base = 4 - r
    for dens, (fc, fa) in zip([ridge_all[r], ridge_neg[r], ridge_pos[r]], RIDGE_COLS):
        ys = [base + d * rscale for d in dens]
        xs = ridge_grid + ridge_grid[::-1]
        yy = ys + [base] * len(ridge_grid)
        ph3.patch(xs, yy, fill_color=fc, fill_alpha=fa, line_color="#111111", line_width=1)
    ph3.scatter([ridge_gate[r]], [base + 0.2], size=2, color="#111111")

row4 = row(column(ph1, ph2), column(hL, ph3))

layout = column(row1, row2, row3, row4)
open("out.html", "w").write(file_html(layout, INLINE, "Figure"))
